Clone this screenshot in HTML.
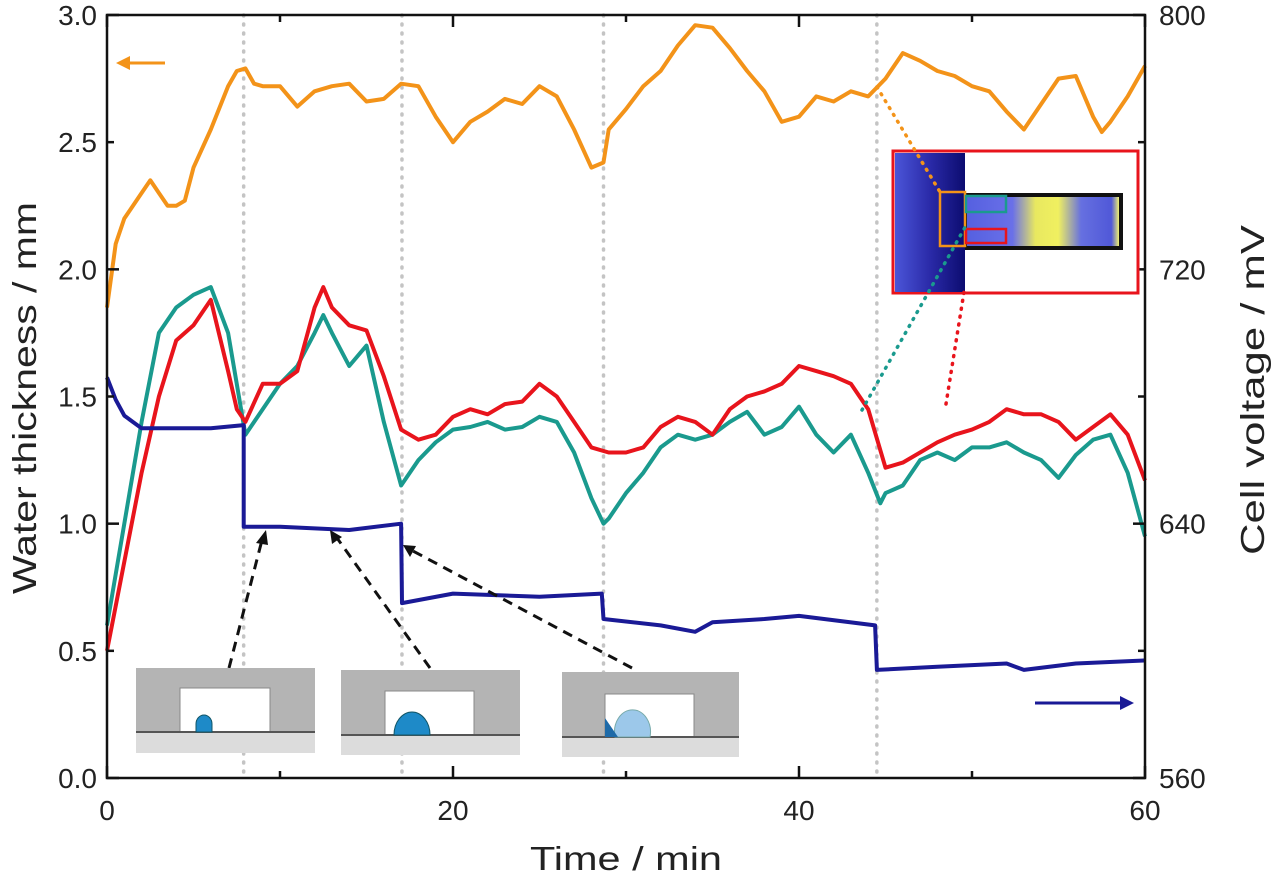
<!DOCTYPE html>
<html><head><meta charset="utf-8"><style>
body{margin:0;background:#fff;}
svg{display:block;font-family:"Liberation Sans",sans-serif;}
</style></head><body>
<svg id="chart" width="1280" height="876" viewBox="0 0 1280 876">
<defs>
<linearGradient id="gblue" x1="0" x2="1"><stop offset="0" stop-color="#4b55d8"/><stop offset="0.5" stop-color="#2a2aa8"/><stop offset="1" stop-color="#0c0c70"/></linearGradient>
<linearGradient id="gbar" x1="0" x2="1"><stop offset="0" stop-color="#5560e0"/><stop offset="0.3" stop-color="#6a70e8"/><stop offset="0.45" stop-color="#e8e860"/><stop offset="0.6" stop-color="#f0f060"/><stop offset="0.75" stop-color="#6670e0"/><stop offset="0.95" stop-color="#5058d8"/><stop offset="1" stop-color="#f0f070"/></linearGradient>
</defs>
<g id="grid"></g>
<g id="series"></g>
<g id="axes"></g>
<g>
<line x1="165" y1="63" x2="126" y2="63" stroke="#f39319" stroke-width="3"/>
<polygon points="116,63 130,56 130,70" fill="#f39319"/>
<line x1="1035" y1="703" x2="1122" y2="703" stroke="#1a1a96" stroke-width="3"/>
<polygon points="1134,703 1120,696 1120,710" fill="#1a1a96"/>
</g>
<g stroke="#111" stroke-width="3" stroke-dasharray="10,7" fill="none">
<line x1="229" y1="668" x2="262" y2="540"/>
<line x1="430" y1="668" x2="337" y2="538"/>
<line x1="632" y1="668" x2="413" y2="551"/>
</g>
<g fill="#111">
<polygon points="266,530 256,543 268,545"/>
<polygon points="330,530 332,544 342,537"/>
<polygon points="403,545 410,557 416,546"/>
</g>
<g>
<rect x="136" y="668" width="179" height="64" fill="#b4b4b4"/><rect x="136" y="732" width="179" height="21" fill="#dcdcdc"/>
<rect x="180" y="688" width="90" height="44" fill="#fff" stroke="#888"/><line x1="136" y1="732" x2="315" y2="732" stroke="#555" stroke-width="2"/>
<path d="M196,732 L196,724 A8,9 0 0 1 212,724 L212,732 Z" fill="#1e8ac8" stroke="#156"/>
</g>
<g>
<rect x="341" y="670" width="179" height="65" fill="#b4b4b4"/><rect x="341" y="735" width="179" height="20" fill="#dcdcdc"/>
<rect x="385" y="691" width="89" height="44" fill="#fff" stroke="#888"/><line x1="341" y1="735" x2="520" y2="735" stroke="#555" stroke-width="2"/>
<path d="M394,735 A18,23 0 1 1 430,735 Z" fill="#1e8ac8" stroke="#156"/>
</g>
<g>
<rect x="562" y="672" width="177" height="65" fill="#b4b4b4"/><rect x="562" y="737" width="177" height="20" fill="#dcdcdc"/>
<rect x="605" y="694" width="89" height="43" fill="#fff" stroke="#888"/><line x1="562" y1="737" x2="739" y2="737" stroke="#555" stroke-width="2"/>
<path d="M615,737 A18,22 0 1 1 650,737 Z" fill="#9cc8ea" stroke="#7aa"/>
<path d="M605,718 L605,737 L618,737 Z" fill="#1e6aa8"/>
</g>
<g>
<rect x="893" y="151" width="245" height="142" fill="#fff" stroke="#e8141c" stroke-width="3"/>
<rect x="895" y="153" width="70" height="139" fill="url(#gblue)"/>
<rect x="965" y="193" width="158" height="57" fill="#111"/>
<rect x="967" y="197" width="152" height="49" fill="url(#gbar)"/>
<rect x="940" y="192" width="25" height="54" fill="none" stroke="#f39319" stroke-width="2.5"/>
<rect x="966" y="196" width="40" height="16" fill="none" stroke="#1a9a8e" stroke-width="2.5"/>
<rect x="966" y="229" width="40" height="14" fill="none" stroke="#e8141c" stroke-width="2.5"/>
</g>
<g stroke-width="3.5" stroke-dasharray="1,7" stroke-linecap="round" fill="none">
<line x1="877" y1="87" x2="940" y2="192" stroke="#f39319"/>
<line x1="862" y1="410" x2="968" y2="222" stroke="#1a9a8e"/>
<line x1="946" y1="404" x2="964" y2="292" stroke="#e8141c"/>
</g>
<text x="530" y="870" font-size="33" textLength="192" lengthAdjust="spacingAndGlyphs" fill="#222">Time / min</text>
<text transform="translate(36,398) rotate(-90)" text-anchor="middle" font-size="33" textLength="392" lengthAdjust="spacingAndGlyphs" fill="#222">Water thickness / mm</text>
<text transform="translate(1264,390) rotate(-90)" text-anchor="middle" font-size="33" textLength="330" lengthAdjust="spacingAndGlyphs" fill="#222">Cell voltage / mV</text>
</svg>
<script>
const orangeT=[0,0.5,1,2,2.5,3,3.5,4,4.5,5,6,7,7.5,8,8.5,9,10,11,12,13,14,15,16,17,18,19,20,21,22,23,24,25,26,27,28,28.7,29,30,31,32,33,34,35,36,37,38,39,40,41,42,43,44,45,46,47,48,49,50,51,52,53,54,55,56,57,57.5,58,59,60];
const orangeV=[1.85,2.1,2.2,2.3,2.35,2.3,2.25,2.25,2.27,2.4,2.55,2.72,2.78,2.79,2.73,2.72,2.72,2.64,2.7,2.72,2.73,2.66,2.67,2.73,2.72,2.6,2.5,2.58,2.62,2.67,2.65,2.72,2.68,2.55,2.4,2.42,2.55,2.63,2.72,2.78,2.88,2.96,2.95,2.87,2.78,2.7,2.58,2.6,2.68,2.66,2.7,2.68,2.75,2.85,2.82,2.78,2.76,2.72,2.7,2.62,2.55,2.65,2.75,2.76,2.6,2.54,2.58,2.68,2.8];
const redT=[0,2,3,4,5,6,7,7.5,8,9,10,11,12,12.5,13,14,15,16,17,18,19,20,21,22,23,24,25,26,27,28,29,30,31,32,33,34,35,36,37,38,39,40,41,42,43,44,45,46,47,48,49,50,51,52,53,54,55,56,57,58,59,60];
const redV=[0.5,1.2,1.5,1.72,1.78,1.88,1.6,1.45,1.4,1.55,1.55,1.6,1.85,1.93,1.85,1.78,1.76,1.58,1.37,1.33,1.35,1.42,1.45,1.43,1.47,1.48,1.55,1.5,1.4,1.3,1.28,1.28,1.3,1.38,1.42,1.4,1.35,1.45,1.5,1.52,1.55,1.62,1.6,1.58,1.55,1.45,1.22,1.24,1.28,1.32,1.35,1.37,1.4,1.45,1.43,1.43,1.4,1.33,1.38,1.43,1.35,1.17];
const tealT=[0,1,2,3,4,5,6,7,8,9,10,11,12,12.5,13,14,15,16,17,18,19,20,21,22,23,24,25,26,27,28,28.7,29,30,31,32,33,34,35,36,37,38,39,40,41,42,43,44,44.7,45,46,47,48,49,50,51,52,53,54,55,56,57,58,59,60];
const tealV=[0.6,1.0,1.4,1.75,1.85,1.9,1.93,1.75,1.35,1.45,1.55,1.62,1.75,1.82,1.75,1.62,1.7,1.4,1.15,1.25,1.32,1.37,1.38,1.4,1.37,1.38,1.42,1.4,1.28,1.1,1.0,1.02,1.12,1.2,1.3,1.35,1.33,1.35,1.4,1.44,1.35,1.38,1.46,1.35,1.28,1.35,1.2,1.08,1.12,1.15,1.25,1.28,1.25,1.3,1.3,1.32,1.28,1.25,1.18,1.27,1.33,1.35,1.2,0.95];
const voltT=[0,0.5,1,2,4,6,7.9,7.9,10,14,17,17.05,20,25,28.6,28.7,32,34,35,38,40,44.4,44.5,48,52,53,56,60];
const voltV=[686,679,674,670,670,670,671,639,639,638,640,615,618,617,618,610,608,606,609,610,611,608,594,595,596,594,596,597];
const eventT=[7.9,17.05,28.7,44.5];
const xTicks=[0,20,40,60];
const leftTicks=[0,0.5,1.0,1.5,2.0,2.5,3.0];
const rightTicks=[560,640,720,800];

const NS='http://www.w3.org/2000/svg';
const X0=107,X1=1145,Y0=778,Y1=15;
const xs=t=>X0+(X1-X0)*t/60;
const yl=v=>Y0-(Y0-Y1)*v/3;
const yr=v=>Y0-(Y0-Y1)*(v-560)/240;
function mk(tag,attrs,parent){const e=document.createElementNS(NS,tag);for(const k in attrs)e.setAttribute(k,attrs[k]);parent.appendChild(e);return e;}
const grid=document.getElementById('grid'),ser=document.getElementById('series'),ax=document.getElementById('axes');
eventT.forEach((t,i)=>{const l=mk('line',{x1:xs(t),x2:xs(t),y1:Y1,y2:Y0,stroke:'#c4c4c4','stroke-width':3.5,'stroke-dasharray':'1,8','stroke-linecap':'round'},grid);

});
function line(T,V,f,color,name){const d=T.map((t,i)=>(i?'L':'M')+xs(t).toFixed(1)+','+f(V[i]).toFixed(1)).join('');
const p=mk('path',{d:d,fill:'none',stroke:color,'stroke-width':4,'stroke-linejoin':'round'},ser);

}
line(tealT,tealV,yl,'#1a9a8e','teal-series');
line(redT,redV,yl,'#e8141c','red-series');
line(orangeT,orangeV,yl,'#f39319','orange-series');
line(voltT,voltV,yr,'#1a1a96','cell-voltage-series');
const frame=mk('rect',{x:X0,y:Y1,width:X1-X0,height:Y0-Y1,fill:'none',stroke:'#111','stroke-width':2.5},ax);


xTicks.forEach((t,i)=>{mk('line',{x1:xs(t),x2:xs(t),y1:Y0,y2:Y0-12,stroke:'#111','stroke-width':2.5},ax);mk('line',{x1:xs(t),x2:xs(t),y1:Y1,y2:Y1+12,stroke:'#111','stroke-width':2.5},ax);
if(i<xTicks.length-1){const h=xs(t+10);mk('line',{x1:h,x2:h,y1:Y0,y2:Y0-7,stroke:'#111','stroke-width':2.5},ax);mk('line',{x1:h,x2:h,y1:Y1,y2:Y1+7,stroke:'#111','stroke-width':2.5},ax);}
const tx=mk('text',{x:xs(t),y:Y0+42,'text-anchor':'middle','font-size':28,fill:'#222'},ax);tx.textContent=t;

});
leftTicks.forEach(v=>{mk('line',{x1:X0,x2:X0+(Math.round(v*2)%2?7:12),y1:yl(v),y2:yl(v),stroke:'#111','stroke-width':2.5},ax);
const tx=mk('text',{x:X0-10,y:yl(v)+10,'text-anchor':'end','font-size':28,fill:'#222'},ax);tx.textContent=v.toFixed(1);

});
rightTicks.forEach((v,i)=>{mk('line',{x1:X1,x2:X1-12,y1:yr(v),y2:yr(v),stroke:'#111','stroke-width':2.5},ax);
if(i<rightTicks.length-1){mk('line',{x1:X1,x2:X1-7,y1:yr(v+40),y2:yr(v+40),stroke:'#111','stroke-width':2.5},ax);}
const tx=mk('text',{x:X1+14,y:yr(v)+10,'font-size':28,fill:'#222'},ax);tx.textContent=v;

});
</script>
</body></html>
